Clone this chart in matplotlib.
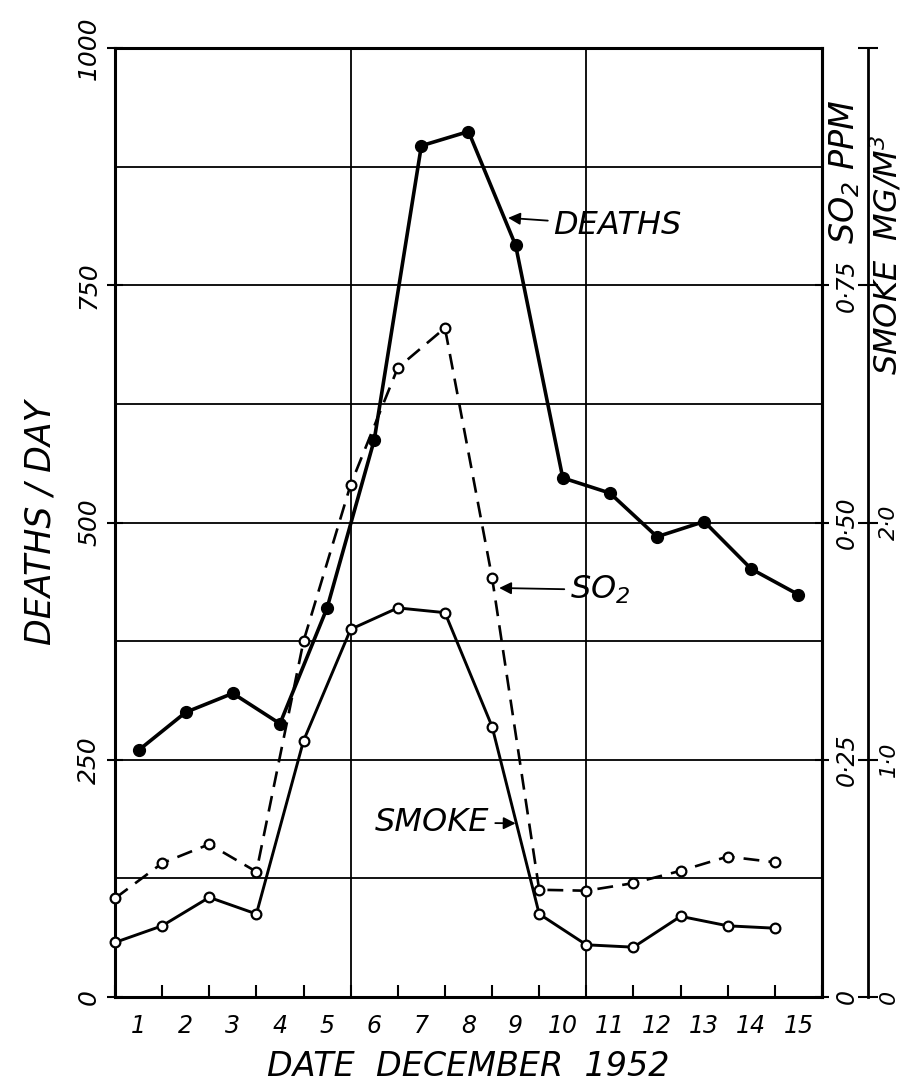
import matplotlib.pyplot as plt

# dane: Londres, diciembre 1952
dias = list(range(1, 16))
muertes = [260, 300, 320, 288, 410, 587, 897, 912, 792, 547, 531, 485, 501, 451, 424]
so2_ppm = [0.104, 0.141, 0.161, 0.132, 0.375, 0.540, 0.663, 0.705, 0.442,
           0.113, 0.112, 0.120, 0.133, 0.148, 0.142]
humo_mg = [0.23, 0.30, 0.42, 0.35, 1.08, 1.55, 1.64, 1.62, 1.14,
           0.35, 0.22, 0.21, 0.34, 0.30, 0.29]
ticks_muertes = [0, 250, 500, 750, 1000]
etiq_muertes = ['0', '250', '500', '750', '1000']
ticks_so2 = [0, 0.25, 0.50, 0.75]
etiq_so2 = ['0', '0·25', '0·50', '0·75']
ticks_humo = [0, 1.0, 2.0, 3.0, 4.0]
etiq_humo = ['0', '1·0', '2·0', '', '']

plt.rcParams['font.family'] = 'DejaVu Sans'
plt.rcParams['font.style'] = 'italic'
plt.rcParams['mathtext.default'] = 'regular'

fig = plt.figure(figsize=(9.04, 10.85), dpi=100)
ax = fig.add_axes([115 / 904, 88 / 1085, 707 / 904, 949 / 1085])
ax2 = ax.twinx()
ax3 = ax.twinx()

x_muertes = [d - 0.5 for d in dias]   # centro del dia
x_contam = [d - 1 for d in dias]      # medicion al inicio del dia

ax.plot(x_muertes, muertes, color='black', lw=2.6, marker='o', ms=8.5,
        mfc='black', mec='black', zorder=5, clip_on=False)
ax2.plot(x_contam, so2_ppm, color='black', lw=1.9, ls=(0, (6, 3.5)), marker='o', ms=7,
         mfc='white', mec='black', mew=1.6, zorder=5, clip_on=False)
ax3.plot(x_contam, humo_mg, color='black', lw=2.1, marker='o', ms=7,
         mfc='white', mec='black', mew=1.6, zorder=5, clip_on=False)

ax.set_xlim(0, 15)
ax.set_ylim(0, 1000)
ax2.set_ylim(0, 1.0)
ax3.set_ylim(0, 4.0)

# rejilla
for yv in range(125, 1000, 125):
    ax.axhline(yv, color='black', lw=1.3, zorder=1)
for xv in [5, 10]:
    ax.axvline(xv, color='black', lw=1.3, zorder=1)

for s in ax.spines.values():
    s.set_linewidth(2.2)

ax.set_xticks(range(16))
ax.set_xticklabels([])
ax.set_xticks([d - 0.5 for d in dias], minor=True)
ax.set_xticklabels([str(d) for d in dias], minor=True, fontsize=17)
ax.tick_params(axis='x', which='major', direction='in', length=9, width=1.5)
ax.tick_params(axis='x', which='minor', length=0, pad=12)

ax.set_yticks(ticks_muertes)
ax.set_yticklabels(etiq_muertes, rotation=90, va='center', fontsize=18)
ax.tick_params(axis='y', direction='inout', length=12, width=1.5, pad=4)

for a in (ax2, ax3):
    for k in ('top', 'bottom', 'left'):
        a.spines[k].set_visible(False)
ax2.spines['right'].set_linewidth(2.2)
ax3.spines['right'].set_position(('axes', 1.065))
ax3.spines['right'].set_linewidth(2.0)

ax2.set_yticks(ticks_so2)
ax2.set_yticklabels(etiq_so2, rotation=90, va='center', fontsize=17)
ax2.tick_params(axis='y', direction='inout', length=10, width=1.5, pad=4)
ax3.set_yticks(ticks_humo)
ax3.set_yticklabels(etiq_humo, rotation=90, va='center', fontsize=16)
ax3.tick_params(axis='y', direction='inout', length=14, width=1.5, pad=1)

ax.set_xlabel('DATE  DECEMBER  1952', fontsize=24, labelpad=9)
ax.set_ylabel('DEATHS / DAY', fontsize=25, labelpad=14)

fig.text(845 / 904, 1 - 172 / 1085, 'SO$_2$ PPM', rotation=90, fontsize=24,
         ha='center', va='center')
fig.text(887 / 904, 1 - 255 / 1085, 'SMOKE  MG/M$^3$', rotation=90, fontsize=23,
         ha='center', va='center')

flecha = dict(arrowstyle='-|>', color='black', lw=1.3, mutation_scale=18,
              shrinkA=2, shrinkB=0)
ax.annotate('DEATHS', xy=(8.34, 821), xytext=(9.3, 813), fontsize=23,
            ha='left', va='center', arrowprops=flecha, zorder=6)
ax.annotate('SO$_2$', xy=(8.15, 431), xytext=(9.65, 429), fontsize=23,
            ha='left', va='center', arrowprops=flecha, zorder=6)
ax.annotate('SMOKE', xy=(8.5, 183), xytext=(7.95, 184), fontsize=23,
            ha='right', va='center', arrowprops=flecha, zorder=6)

fig.savefig('out.png', dpi=100)
plt.close(fig)
